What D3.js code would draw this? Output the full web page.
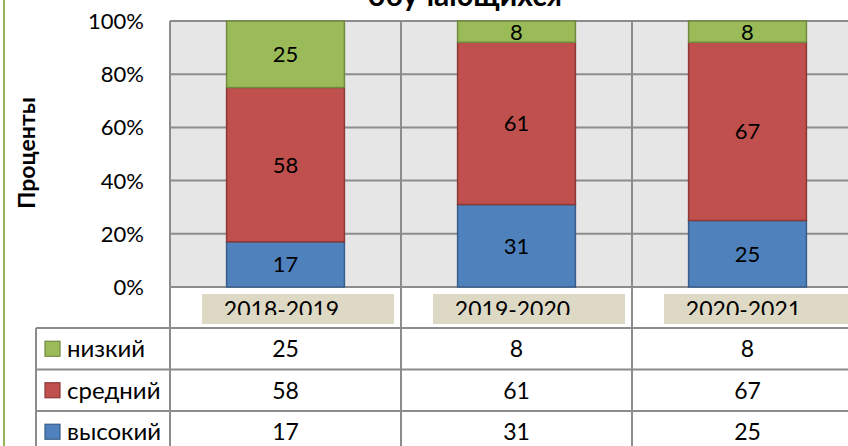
<!DOCTYPE html>
<html>
<head>
<meta charset="utf-8">
<script src="https://cdn.jsdelivr.net/npm/d3@7"></script>
<style>
  body { margin: 0; background: #fff; }
  text { font-family: Lato, "Open Sans", sans-serif; fill: #000; }
</style>
</head>
<body>
<div id="d3-container"></div>
<script>
/* CONSTANTS AND GLOBALS */
const width = 848,
  height = 446,
  margin = { top: 21, left: 170 };

// chart data
const years = ["2018-2019", "2019-2020", "2020-2021"];
const levels = ["низкий", "средний", "высокий"];
const low = [25, 8, 8];
const mid = [58, 61, 67];
const high = [17, 31, 25];
const yTicks = [0, 20, 40, 60, 80, 100];

const colors = { "низкий": "#9bbb59", "средний": "#c0504d", "высокий": "#4f81bd" };
const strokes = { "низкий": "#71893f", "средний": "#8c3836", "высокий": "#385d8a" };
const valuesBy = { "низкий": low, "средний": mid, "высокий": high };

// rows for stacking
const rows = years.map((y, i) => ({ year: y, "низкий": low[i], "средний": mid[i], "высокий": high[i] }));

const svg = d3.select("#d3-container")
  .append("svg")
  .attr("width", width)
  .attr("height", height);

svg.append("rect").attr("width", width).attr("height", height).attr("fill", "#fff");

// + SCALES
const xScale = d3.scaleBand()
  .domain(years)
  .range([margin.left, margin.left + 231 * years.length]);

const yScale = d3.scaleLinear()
  .domain([0, 100])
  .range([287, margin.top]);

const barW = xScale.bandwidth() * 0.51;
const plotRight = xScale.range()[1];

// plot background
svg.append("rect")
  .attr("x", margin.left)
  .attr("y", yScale(100))
  .attr("width", plotRight - margin.left)
  .attr("height", yScale(0) - yScale(100))
  .attr("fill", "#e6e6e6");

const gridColor = "#8c8c8c";

// horizontal grid
svg.append("g")
  .selectAll("line")
  .data(yTicks)
  .join("line")
  .attr("x1", margin.left)
  .attr("x2", plotRight)
  .attr("y1", d => yScale(d))
  .attr("y2", d => yScale(d))
  .attr("stroke", gridColor)
  .attr("stroke-width", 2);

// vertical grid (runs down through the table)
svg.append("g")
  .selectAll("line")
  .data(years)
  .join("line")
  .attr("x1", d => xScale(d))
  .attr("x2", d => xScale(d))
  .attr("y1", yScale(100))
  .attr("y2", height)
  .attr("stroke", gridColor)
  .attr("stroke-width", 2);

// y axis labels
svg.append("g")
  .selectAll("text")
  .data(yTicks)
  .join("text")
  .attr("x", 144)
  .attr("y", d => yScale(d))
  .attr("dy", "0.36em")
  .attr("text-anchor", "end")
  .attr("font-size", 22)
  .text(d => d + "%");

// y axis title
svg.append("text")
  .attr("transform", "translate(35,153) rotate(-90)")
  .attr("text-anchor", "middle")
  .attr("font-size", 23)
  .attr("font-weight", "bold")
  .attr("font-family", "'Liberation Sans', Arial, sans-serif")
  .text("Проценты");

// title (first line is cut off above the frame, as in the original)
svg.append("text")
  .attr("x", 465)
  .attr("y", 6)
  .attr("text-anchor", "middle")
  .attr("font-size", 30)
  .attr("font-weight", "bold")
  .attr("font-family", "'Liberation Sans', Arial, sans-serif")
  .text("обучающихся");

// + STACKED BARS
const stack = d3.stack().keys(["высокий", "средний", "низкий"]);
const series = stack(rows);

const layer = svg.append("g")
  .selectAll("g")
  .data(series)
  .join("g")
  .attr("fill", d => colors[d.key])
  .attr("stroke", d => strokes[d.key]);

layer.selectAll("rect")
  .data(d => d)
  .join("rect")
  .attr("x", d => xScale(d.data.year) + (xScale.bandwidth() - barW) / 2)
  .attr("y", d => yScale(d[1]))
  .attr("width", barW)
  .attr("height", d => yScale(d[0]) - yScale(d[1]))
  .attr("stroke-width", 1.5);

layer.selectAll("text")
  .data(d => d.map(v => ({ v, key: d.key })))
  .join("text")
  .attr("x", d => xScale(d.v.data.year) + xScale.bandwidth() / 2)
  .attr("y", d => yScale((d.v[0] + d.v[1]) / 2))
  .attr("dy", "0.36em")
  .attr("text-anchor", "middle")
  .attr("font-size", 22)
  .attr("stroke", "none")
  .attr("fill", "#000")
  .text(d => d.v.data[d.key]);

// + DATA TABLE
const tableTop = 328,
  rowH = 41.5,
  tableLeft = 36;

// category header cells
svg.append("clipPath")
  .attr("id", "hdr-clip")
  .append("rect")
  .attr("x", 0)
  .attr("y", 288)
  .attr("width", width)
  .attr("height", 27);

svg.append("g")
  .selectAll("rect")
  .data(years)
  .join("rect")
  .attr("x", d => xScale(d) + 32)
  .attr("y", 294)
  .attr("width", 192)
  .attr("height", 30)
  .attr("fill", "#ddd9c4");

svg.append("g")
  .attr("clip-path", "url(#hdr-clip)")
  .selectAll("text")
  .data(years)
  .join("text")
  .attr("x", d => xScale(d) + xScale.bandwidth() / 2 - 4)
  .attr("y", 318)
  .attr("text-anchor", "middle")
  .attr("font-size", 23)
  .text(d => d);

// row lines
svg.append("g")
  .selectAll("line")
  .data(d3.range(levels.length + 1))
  .join("line")
  .attr("x1", tableLeft)
  .attr("x2", plotRight)
  .attr("y1", i => tableTop + i * rowH)
  .attr("y2", i => tableTop + i * rowH)
  .attr("stroke", gridColor)
  .attr("stroke-width", 2);

svg.append("line")
  .attr("x1", tableLeft)
  .attr("x2", tableLeft)
  .attr("y1", tableTop)
  .attr("y2", height)
  .attr("stroke", gridColor)
  .attr("stroke-width", 2);

const tRow = svg.append("g")
  .selectAll("g")
  .data(levels)
  .join("g")
  .attr("transform", (d, i) => `translate(0,${tableTop + i * rowH + rowH / 2})`);

// legend keys
tRow.append("rect")
  .attr("x", 45)
  .attr("y", -7.5)
  .attr("width", 15)
  .attr("height", 15)
  .attr("fill", d => colors[d])
  .attr("stroke", d => strokes[d])
  .attr("stroke-width", 1.2);

tRow.append("text")
  .attr("x", 67)
  .attr("dy", "0.36em")
  .attr("font-size", 24)
  .text(d => d);

tRow.selectAll("text.val")
  .data(d => valuesBy[d].map((v, i) => ({ v, year: years[i] })))
  .join("text")
  .attr("class", "val")
  .attr("x", d => xScale(d.year) + xScale.bandwidth() / 2)
  .attr("dy", "0.36em")
  .attr("text-anchor", "middle")
  .attr("font-size", 23)
  .text(d => d.v);

// outer frame line on the left
svg.append("line")
  .attr("x1", 4)
  .attr("x2", 4)
  .attr("y1", 0)
  .attr("y2", height)
  .attr("stroke", "#94b35a")
  .attr("stroke-width", 2);
</script>
</body>
</html>
